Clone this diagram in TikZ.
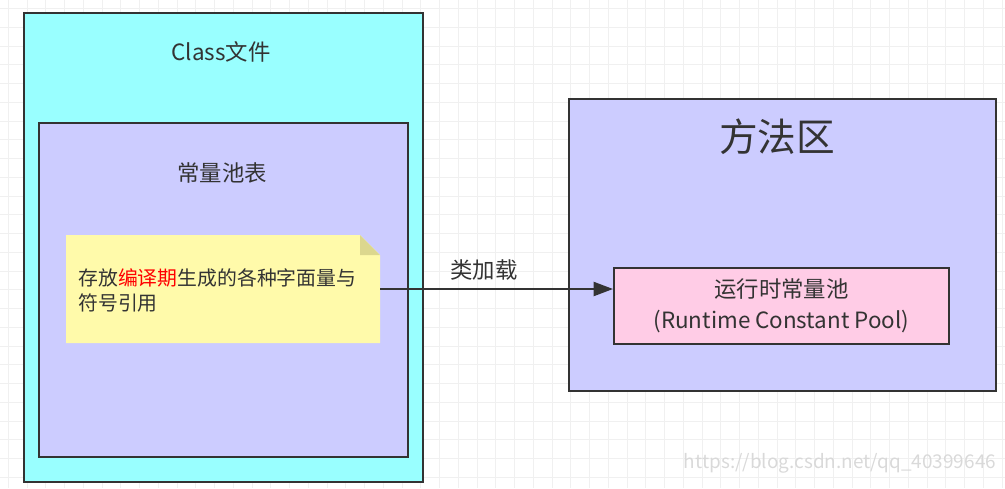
\documentclass[tikz,border=0pt]{standalone}
\usepackage{fontspec}
\setmainfont{Noto Sans CJK SC}
\usetikzlibrary{arrows.meta}

\definecolor{txtgray}{HTML}{333333}
\definecolor{edgegray}{HTML}{333333}
\definecolor{classcyan}{HTML}{99FFFF}
\definecolor{poolblue}{HTML}{CCCCFF}
\definecolor{noteyellow}{HTML}{FFFAAA}
\definecolor{notefold}{HTML}{DCD78E}
\definecolor{rtpink}{HTML}{FFCCE6}
\definecolor{gridgray}{HTML}{F0F0F0}

\tikzset{
  box/.style={draw=edgegray,line width=1.1pt,anchor=north west,inner sep=0pt},
  lbl/.style={text=txtgray,font=\fontsize{12.75}{15}\selectfont},
  gridline/.style={draw=gridgray,line width=0.4pt},
}

\begin{document}
\begin{tikzpicture}[x=0.02cm,y=-0.02cm]
        \useasboundingbox (0,0) rectangle (1005,488);
        % background grid
        \foreach \i in {0,...,53}
          \draw[gridline] ({8.25+\i*18.75},0) -- ++(0,488);
        \foreach \j in {0,...,25}
          \draw[gridline] (0,{8.5+\j*18.75}) -- ++(1005,0);
        % class file side
        \node[box,fill=classcyan,minimum width=7.98cm,minimum height=9.38cm] (classfile) at (23,12) {};
        \node[lbl] (classlbl) at (221,52) {Class文件};
        \node[box,fill=poolblue,minimum width=7.38cm,minimum height=6.68cm] (cpool) at (38,122) {};
        \node[lbl] (cpoollbl) at (222,173) {常量池表};
        % note with folded corner
        \fill[noteyellow] (66,235) -- (360,235) -- (380,255) -- (380,343) -- (66,343) -- cycle;
        \fill[notefold] (360,235) -- (380,255) -- (360,255) -- cycle;
        \coordinate (note) at (380,289);
        \node[text=txtgray,anchor=west,align=left,inner sep=0pt,
              font=\fontsize{11.3}{14.2}\selectfont] (notetxt) at (78,290)
              {存放\textcolor{red}{编译期}生成的各种字面量与\\符号引用};
        % method area side
        \node[box,fill=poolblue,minimum width=8.54cm,minimum height=5.84cm] (methodarea) at (568,98) {};
        \node[lbl,font=\fontsize{22}{26}\selectfont] (methodlbl) at (777,137) {方法区};
        \node[box,fill=rtpink,minimum width=6.70cm,minimum height=1.52cm] (rtcp) at (613,267) {};
        \node[lbl,align=center,font=\fontsize{12.75}{17.5}\selectfont] (rtcplbl) at (rtcp.center)
              {运行时常量池\\(Runtime Constant Pool)};
        % class loading
        \draw[edgegray,line width=1.1pt,-{Triangle[length=11pt,width=8pt]}] (note) -- (note -| rtcp.west);
        \node[lbl] (loadlbl) at (484,270) {类加载};
        \node[text=black!15,font=\fontsize{10.8}{13}\selectfont] (wmark) at (840,463) {https://blog.csdn.net/qq\_40399646};
    \end{tikzpicture}
\end{document}
